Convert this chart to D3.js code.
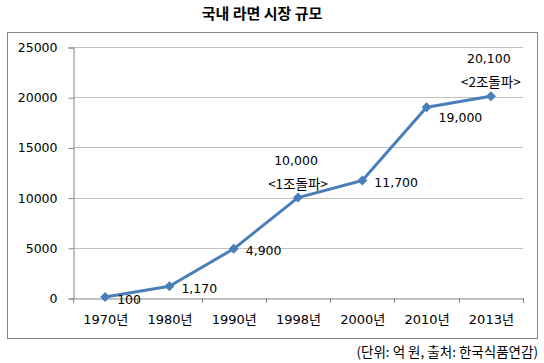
<!DOCTYPE html>
<html><head><meta charset="utf-8">
<script src="https://cdn.jsdelivr.net/npm/d3@7/dist/d3.min.js"></script>
<style>body{margin:0;background:#fff}svg{display:block}text{font-family:"DejaVu Sans","Noto Sans CJK KR",sans-serif;fill:#000}</style>
</head><body>
<script>
const categories = ["1970년","1980년","1990년","1998년","2000년","2010년","2013년"];
const values = [100,1170,4900,10000,11700,19000,20100];
const valueLabels = ["100","1,170","4,900","10,000","11,700","19,000","20,100"];
const notes = ["","","","<1조돌파>","","","<2조돌파>"];
const yTicks = [0,5000,10000,15000,20000,25000];
const title = "국내 라면 시장 규모";
const source = "(단위: 억 원, 출처: 한국식품연감)";

const W=544,H=363;
const FF='"DejaVu Sans","Noto Sans CJK KR",sans-serif';
const svg=d3.select("body").append("svg").attr("width",W).attr("height",H);
svg.append("rect").attr("x",7.5).attr("y",32.5).attr("width",530).attr("height",306)
  .attr("fill","#fff").attr("stroke","#868686").attr("stroke-width",1);
svg.append("text").attr("x",262).attr("y",19).attr("text-anchor","middle")
  .style("font-family",'"Noto Sans CJK KR",sans-serif')
  .attr("font-size",15).attr("font-weight","bold").text(title);
svg.append("text").attr("x",538).attr("y",357).attr("text-anchor","end")
  .style("font-family",'"Noto Sans CJK KR",sans-serif')
  .attr("font-size",13.5).text(source);

const x=d3.scaleBand().domain(categories).range([73,523]);
const y=d3.scaleLinear().domain([0,25000]).range([298,47]);

svg.append("g").selectAll("line").data(yTicks.slice(1)).join("line")
  .attr("x1",73).attr("x2",523).attr("y1",d=>Math.round(y(d))+0.5).attr("y2",d=>Math.round(y(d))+0.5)
  .attr("stroke","#c0c0c0");

const ya=svg.append("g").attr("transform","translate(73.5,0.5)")
  .call(d3.axisLeft(y).tickValues(yTicks).tickFormat(d3.format("d")).tickSize(5).tickPadding(11));
ya.selectAll("text").attr("font-size",12.5).style("font-family",FF);
ya.selectAll("line,path").attr("stroke","#868686");

const xa=svg.append("g").attr("transform","translate(0.5,298.5)")
  .call(d3.axisBottom(x).tickSize(0).tickPadding(16));
xa.select("path").attr("stroke","#868686");
xa.selectAll("text").attr("font-size",13).style("font-family",FF);
const edges=categories.map(c=>x(c)).concat([x.range()[1]]);
svg.append("g").selectAll("line").data(edges).join("line")
  .attr("x1",d=>Math.round(d)+0.5).attr("x2",d=>Math.round(d)+0.5).attr("y1",298).attr("y2",303)
  .attr("stroke","#868686");

const cx=c=>x(c)+x.bandwidth()/2;
const data=categories.map((c,i)=>({c,v:values[i],l:valueLabels[i],n:notes[i]}));

svg.append("path").datum(data)
  .attr("d",d3.line().x(d=>cx(d.c)).y(d=>y(d.v)))
  .attr("fill","none").attr("stroke","#4a7ebb").attr("stroke-width",3).attr("stroke-linejoin","round");

svg.append("g").selectAll("path").data(data).join("path")
  .attr("transform",d=>`translate(${cx(d.c)},${y(d.v)}) rotate(45)`)
  .attr("d",d3.symbol(d3.symbolSquare,50)).attr("fill","#4a7ebb");

const lab=svg.append("g");
data.forEach((d,i)=>{
  const px=cx(d.c),py=y(d.v);
  if(d.n){
    lab.append("text").attr("x",px-2).attr("y",py-33).attr("text-anchor","middle").attr("font-size",12.5).text(d.l);
    lab.append("text").attr("x",px).attr("y",py-9).attr("text-anchor","middle").attr("font-size",13.5)
      .style("font-family",'"Noto Sans CJK KR",sans-serif').text(d.n);
  } else {
    const dy = i===5?10:(i===0?3:2);
    lab.append("text").attr("x",px+12).attr("y",py+dy).attr("dy","0.35em").attr("text-anchor","start").attr("font-size",12.5).text(d.l);
  }
});
</script>
</body></html>
